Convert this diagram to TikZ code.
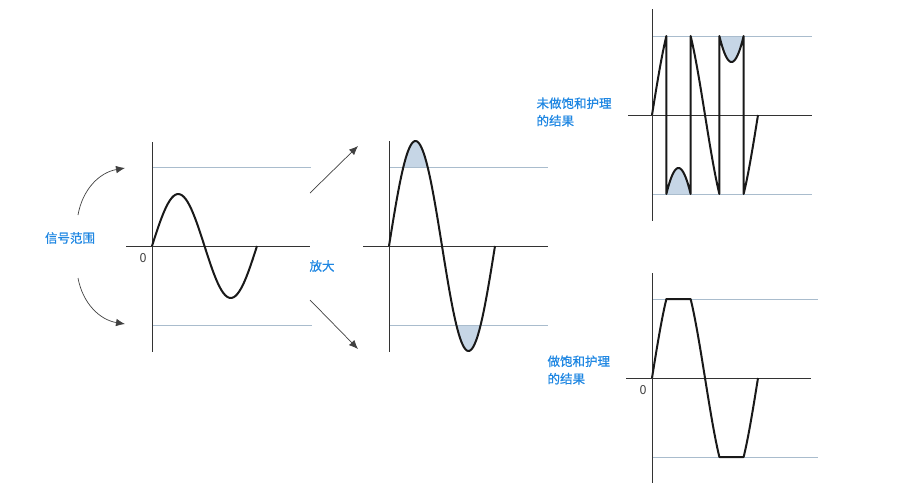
\documentclass[tikz,border=0pt]{standalone}
\usepackage{fontspec}
\setmainfont{Noto Sans CJK SC}
\newfontfamily\lblfont{Noto Sans CJK SC}[FakeBold=0.6]
\usepackage{tikz}
\usetikzlibrary{arrows.meta}
\usetikzlibrary{positioning}
\usepackage{xcolor}
\definecolor{lblblue}{HTML}{1E86E2}
\definecolor{rangegray}{HTML}{A9BCCD}
\definecolor{cutfill}{HTML}{C6D6E6}

\begin{document}
\begin{tikzpicture}[x=1pt, y=-1pt, every node/.style={font=\fontsize{12.5}{17.5}\selectfont},
		axisline/.style={draw=black!80, line width=0.8pt},
		rangeline/.style={draw=rangegray, line width=0.8pt},
		waveline/.style={draw=black!90, line width=2pt, line join=round},
		cutarea/.style={fill=cutfill},
		arr/.style={-{Latex[length=9pt,width=7.5pt]}, draw=black!75, line width=0.7pt},
		lbl/.style={text=lblblue, align=left, font=\fontsize{12.5}{17.5}\lblfont},
		zerolbl/.style={text=black!75},
		declare function={sv(\t)=105*sin(\t/106*360);}]
				\useasboundingbox (0,0) rectangle (899,490);

				\coordinate (o1) at (152,246);
				\coordinate (o2) at (389,246);
				\coordinate (o3) at (652,115);
				\coordinate (o4) at (652,378);

				\begin{scope}[shift={(o1)}]
					\draw[rangeline] (0,-79) -- (159,-79);
					\draw[rangeline] (0,79) -- (160,79);
					\draw[axisline] (0,-104) -- (0,106);
					\draw[axisline] (-26,0) -- (158,0);
					\draw[waveline, smooth, samples=60, domain=0:105] plot (\x, {-52*sin(\x/105*360)});
				\end{scope}
				\node[zerolbl, below left=4pt and 2pt of o1] (z1) {0};

				\begin{scope}[shift={(o2)}]
					\fill[cutarea, smooth, samples=30, domain=14.37:38.63] plot (\x, {-sv(\x)}) -- cycle;
					\fill[cutarea, smooth, samples=30, domain=67.37:91.63] plot (\x, {-sv(\x)}) -- cycle;
					\draw[rangeline] (0,-79) -- (159,-79);
					\draw[rangeline] (0,79) -- (159,79);
					\draw[axisline] (0,-105) -- (0,106);
					\draw[axisline] (-26,0) -- (159,0);
					\draw[waveline, smooth, samples=80, domain=0:106] plot (\x, {-sv(\x)});
				\end{scope}

				\begin{scope}[shift={(o3)}]
					\fill[cutarea, smooth, samples=30, domain=14.37:38.63] plot (\x, {158-sv(\x)}) -- cycle;
					\fill[cutarea, smooth, samples=30, domain=67.37:91.63] plot (\x, {-158-sv(\x)}) -- cycle;
					\draw[rangeline] (0,-79) -- (160,-79);
					\draw[rangeline] (0,79) -- (160,79);
					\draw[axisline] (0,-106) -- (0,106);
					\draw[axisline] (-24,0) -- (160,0);
					\draw[waveline, smooth, samples=25]
						plot[domain=0:14.37] (\x, {-sv(\x)})
						-- plot[domain=14.37:38.63] (\x, {158-sv(\x)})
						-- plot[domain=38.63:67.37] (\x, {-sv(\x)})
						-- plot[domain=67.37:91.63] (\x, {-158-sv(\x)})
						-- plot[domain=91.63:106] (\x, {-sv(\x)});
				\end{scope}

				\begin{scope}[shift={(o4)}]
					\draw[rangeline] (0,-79) -- (166,-79);
					\draw[rangeline] (0,79) -- (166,79);
					\draw[axisline] (0,-105) -- (0,105);
					\draw[axisline] (-26,0) -- (159,0);
					\draw[waveline, smooth, samples=25]
						plot[domain=0:14.37] (\x, {-sv(\x)})
						-- (38.63,-79)
						-- plot[domain=38.63:67.37] (\x, {-sv(\x)})
						-- (91.63,79)
						-- plot[domain=91.63:106] (\x, {-sv(\x)});
				\end{scope}
				\node[zerolbl, below left=4pt and 2pt of o4] (z4) {0};

				\node[lbl] (sig) at (70,238) {信号范围};
				\node[lbl] (amp) at (322,266) {放大};
				\node[lbl, anchor=west] (raw) at (533,112) {未做饱和护理\\的结果};
				\node[lbl, anchor=west] (sat) at (544,370) {做饱和护理\\的结果};

				\coordinate (ua0) at (78,215);
				\coordinate (ua1) at (125,168);
				\coordinate (la0) at (78,278);
				\coordinate (la1) at (125,324);
				\draw[arr] (ua0) to[bend left=35] (ua1);
				\draw[arr] (la0) to[bend right=35] (la1);

				\coordinate (ur0) at (310,193);
				\coordinate (ur1) at (358,146);
				\coordinate (lr0) at (310,300);
				\coordinate (lr1) at (358,349);
				\draw[arr] (ur0) -- (ur1);
				\draw[arr] (lr0) -- (lr1);
			\end{tikzpicture}
\end{document}
